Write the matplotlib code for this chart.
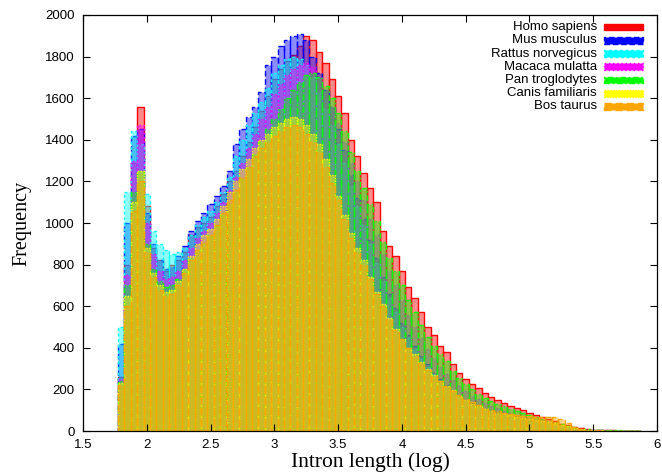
import matplotlib
matplotlib.use("Agg")
import matplotlib.pyplot as plt
from matplotlib.patches import Rectangle
import numpy as np

# histogram bins: centres from 1.80 in steps of 0.05 (log10 intron length)
BIN_START = 1.80
BIN_WIDTH = 0.05

SPECIES = [
    "Homo sapiens",
    "Mus musculus",
    "Rattus norvegicus",
    "Macaca mulatta",
    "Pan troglodytes",
    "Canis familiaris",
    "Bos taurus",
]
COLORS = ["#ff0000", "#0000ff", "#00ffff", "#ff00ff", "#00ff00", "#ffff00", "#ffa500"]
DASHES = ["-", (0, (4, 2)), (0, (2, 2)), (0, (1, 2)), (0, (4, 2, 1, 2)), (0, (1, 1)), (0, (5, 3))]

homo = [260, 800, 1290, 1560, 1080, 880, 820, 770, 800, 820, 860, 940, 980, 1000, 1030, 1080,
        1140, 1200, 1250, 1320, 1390, 1460, 1540, 1610, 1690, 1740, 1780, 1810, 1850, 1900, 1880,
        1820, 1770, 1690, 1610, 1530, 1400, 1320, 1240, 1170, 1100, 960, 890, 840, 770, 690, 640,
        570, 500, 460, 410, 380, 320, 280, 250, 225, 205, 185, 165, 150, 135, 122, 112, 100, 88,
        77, 66, 56, 46, 36, 28, 20, 14, 10, 7, 5, 4, 3, 2, 2, 1, 1]
mus = [420, 1000, 1420, 1450, 1050, 900, 820, 780, 790, 840, 890, 960, 1010, 1050, 1090, 1130,
       1180, 1250, 1380, 1450, 1510, 1560, 1630, 1760, 1800, 1850, 1880, 1900, 1910, 1880, 1800,
       1720, 1640, 1560, 1450, 1350, 1230, 1120, 1020, 920, 830, 740, 660, 590, 520, 460, 410,
       360, 320, 280, 250, 220, 195, 170, 150, 135, 120, 108, 96, 86, 77, 68, 60, 53, 46, 40, 34,
       28, 23, 18, 14, 10, 7, 6, 5, 3, 2, 2, 1, 1, 1, 0]
rattus = [500, 1150, 1440, 1380, 1140, 960, 900, 870, 850, 860, 880, 940, 990, 1030, 1060, 1100,
          1150, 1220, 1320, 1400, 1470, 1530, 1580, 1650, 1720, 1760, 1790, 1800, 1790, 1760, 1700,
          1630, 1550, 1470, 1380, 1290, 1180, 1080, 990, 900, 810, 720, 640, 570, 500, 445, 395,
          350, 310, 272, 240, 212, 188, 165, 146, 130, 116, 104, 93, 83, 74, 66, 58, 51, 44, 38,
          32, 27, 22, 17, 13, 10, 7, 5, 4, 3, 2, 1, 1, 1, 0, 0]
macaca = [250, 750, 1300, 1470, 1000, 850, 770, 730, 740, 770, 820, 880, 930, 960, 1000, 1050,
          1100, 1160, 1220, 1290, 1360, 1430, 1500, 1560, 1620, 1670, 1710, 1740, 1760, 1770, 1750,
          1700, 1640, 1560, 1480, 1390, 1290, 1200, 1110, 1020, 940, 850, 770, 700, 630, 560, 500,
          445, 395, 350, 310, 275, 245, 215, 190, 170, 152, 136, 122, 110, 98, 88, 78, 69, 60, 52,
          45, 38, 31, 25, 19, 14, 10, 7, 5, 4, 3, 2, 1, 1, 1, 0]
pan = [240, 700, 1150, 1250, 900, 780, 720, 690, 700, 730, 780, 830, 870, 900, 940, 990, 1040,
       1090, 1150, 1210, 1270, 1330, 1390, 1450, 1500, 1550, 1600, 1640, 1680, 1710, 1720, 1700,
       1660, 1600, 1530, 1440, 1340, 1250, 1170, 1090, 1010, 910, 830, 770, 700, 630, 570, 510,
       450, 410, 370, 335, 290, 255, 225, 200, 180, 160, 145, 132, 120, 108, 98, 88, 78, 68, 58,
       48, 40, 32, 24, 17, 12, 9, 7, 5, 4, 3, 3, 2, 2, 1]
canis = [230, 650, 1100, 1250, 880, 760, 700, 670, 680, 720, 780, 840, 900, 940, 970, 1020, 1080,
         1150, 1200, 1260, 1310, 1360, 1400, 1430, 1460, 1480, 1500, 1510, 1500, 1470, 1430, 1380,
         1310, 1230, 1130, 1040, 950, 880, 820, 740, 670, 610, 545, 490, 440, 400, 370, 330, 300,
         270, 240, 215, 195, 170, 150, 132, 118, 106, 96, 88, 81, 75, 69, 64, 59, 54, 49, 43, 37,
         30, 22, 15, 10, 6, 4, 3, 2, 1, 1, 1, 0, 0]
bos = [220, 600, 1060, 1200, 860, 740, 680, 650, 660, 700, 760, 820, 870, 910, 940, 990, 1050,
       1110, 1160, 1220, 1270, 1320, 1360, 1390, 1420, 1440, 1460, 1470, 1460, 1430, 1390, 1340,
       1270, 1190, 1110, 1020, 930, 860, 800, 730, 660, 600, 540, 485, 440, 400, 360, 325, 295,
       265, 238, 214, 192, 172, 154, 138, 124, 112, 102, 94, 87, 81, 77, 74, 71, 68, 66, 68, 66,
       58, 40, 20, 10, 6, 4, 3, 2, 1, 1, 1, 0, 0]

SERIES = [homo, mus, rattus, macaca, pan, canis, bos]

X_TICKS = [1.5, 2, 2.5, 3, 3.5, 4, 4.5, 5, 5.5, 6]
X_TICK_LABELS = ["1.5", "2", "2.5", "3", "3.5", "4", "4.5", "5", "5.5", "6"]
Y_TICKS = list(range(0, 2001, 200))


def main():
    fig = plt.figure(figsize=(6.62, 4.73), dpi=100)
    ax = fig.add_axes([83 / 662, 1 - 431 / 473, 574 / 662, 416 / 473])

    for vals, color, ls in zip(SERIES, COLORS, DASHES):
        centres = BIN_START + BIN_WIDTH * np.arange(len(vals))
        ax.bar(centres, vals, width=BIN_WIDTH, color=matplotlib.colors.to_rgba(color, 0.45),
               edgecolor=color, linewidth=1.0, linestyle=ls)

    ax.set_xlim(1.5, 6)
    ax.set_ylim(0, 2000)
    ax.set_xticks(X_TICKS)
    ax.set_xticklabels(X_TICK_LABELS)
    ax.set_yticks(Y_TICKS)
    ax.tick_params(direction="in", length=5, width=0.8, top=True, right=True,
                   labelsize=9.5, pad=6)
    for lab in ax.get_xticklabels() + ax.get_yticklabels():
        lab.set_fontfamily("Liberation Sans")
    for sp in ax.spines.values():
        sp.set_linewidth(0.9)

    ax.set_xlabel("Intron length (log)", fontfamily="Liberation Serif", fontsize=15.5, labelpad=1)
    ax.set_ylabel("Frequency", fontfamily="Liberation Serif", fontsize=14.5, labelpad=10)

    # gnuplot-style key: right-justified labels with a box sample on the right
    y0, step = 0.971, 0.0318
    for i, (name, color, ls) in enumerate(zip(SPECIES, COLORS, DASHES)):
        y = y0 - i * step
        ax.text(0.8955, y, name, transform=ax.transAxes, ha="right", va="center",
                fontsize=9.5, fontfamily="Liberation Sans")
        ax.add_patch(Rectangle((0.9077, y - 0.008), 0.068, 0.016, transform=ax.transAxes,
                               facecolor=color, edgecolor=color, linestyle=ls,
                               linewidth=1.0, zorder=5))

    fig.savefig("out.png", dpi=100)


if __name__ == "__main__":
    main()
